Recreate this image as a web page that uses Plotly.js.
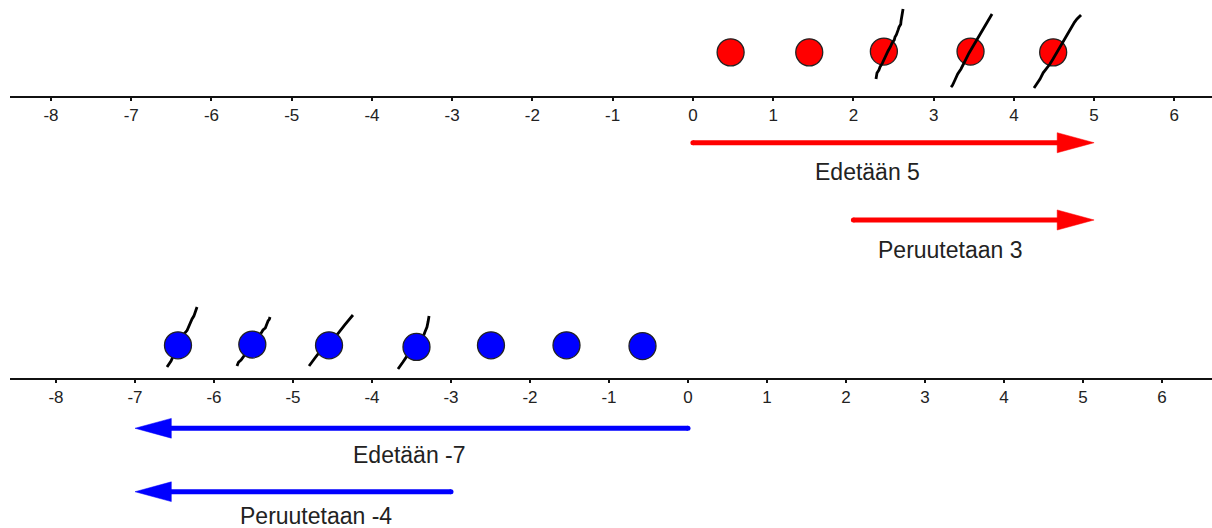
<!DOCTYPE html>
<html>
<head>
<meta charset="utf-8">
<script src="https://cdn.plot.ly/plotly-3.0.1.min.js"></script>
<style>html,body{margin:0;padding:0;background:#fff;}#chart{width:1212px;height:528px;}</style>
</head>
<body>
<div id="chart"></div>
<script>
// ---------- data ----------
var tickValues = [-8, -7, -6, -5, -4, -3, -2, -1, 0, 1, 2, 3, 4, 5, 6];
var tickLabels = ["-8", "-7", "-6", "-5", "-4", "-3", "-2", "-1", "0", "1", "2", "3", "4", "5", "6"];

// top number line (red): counters
var redX = [0.47, 1.45, 2.38, 3.46, 4.49];
var redY = [0.55, 0.55, 0.56, 0.56, 0.55];
// hand-drawn crossing strokes over red counters
var redStroke1X = [2.282, 2.286, 2.294, 2.318, 2.332, 2.360, 2.382, 2.408, 2.432, 2.462, 2.482, 2.510, 2.519, 2.536, 2.544, 2.560, 2.569, 2.590, 2.594, 2.600, 2.607, 2.614, 2.619];
var redStroke1Y = [0.218, 0.262, 0.293, 0.330, 0.368, 0.412, 0.467, 0.512, 0.567, 0.620, 0.667, 0.705, 0.742, 0.770, 0.804, 0.836, 0.866, 0.900, 0.941, 0.972, 1.003, 1.045, 1.090];
var redStroke2X = [3.217, 3.235, 3.266, 3.300, 3.341, 3.365, 3.403, 3.440, 3.478, 3.510, 3.553, 3.585, 3.628, 3.655, 3.690, 3.712, 3.728];
var redStroke2Y = [0.118, 0.140, 0.206, 0.282, 0.343, 0.398, 0.467, 0.540, 0.604, 0.660, 0.742, 0.795, 0.866, 0.920, 0.966, 1.000, 1.028];
var redStroke3X = [4.251, 4.290, 4.326, 4.365, 4.413, 4.450, 4.488, 4.530, 4.575, 4.610, 4.650, 4.690, 4.725, 4.755, 4.787, 4.815, 4.837];
var redStroke3Y = [0.106, 0.160, 0.218, 0.295, 0.355, 0.405, 0.467, 0.540, 0.604, 0.670, 0.742, 0.810, 0.879, 0.925, 0.966, 1.000, 1.016];
// red arrows: [start, end]
var redArrow1 = [0, 5];
var redArrow2 = [2, 5];
var redArrowY = [-0.576, -1.539];
var redLabels = ["Edetään 5", "Peruutetaan 3"];
var redLabelX = [2.18, 3.216];
var redLabelY = [-0.935, -1.913];

// bottom number line (blue): counters
var blueX = [-6.456, -5.515, -4.544, -3.437, -2.494, -1.538, -0.576];
var blueY = [0.42, 0.43, 0.42, 0.40, 0.42, 0.42, 0.41];
var blueStroke1X = [-6.595, -6.570, -6.544, -6.500, -6.456, -6.420, -6.380, -6.340, -6.316, -6.300, -6.278, -6.255, -6.241, -6.228, -6.215];
var blueStroke1Y = [0.146, 0.180, 0.222, 0.320, 0.411, 0.490, 0.563, 0.610, 0.665, 0.715, 0.753, 0.790, 0.842, 0.870, 0.905];
var blueStroke2X = [-5.709, -5.690, -5.658, -5.620, -5.582, -5.545, -5.506, -5.470, -5.430, -5.400, -5.380, -5.350, -5.342, -5.325, -5.316, -5.300, -5.291];
var blueStroke2Y = [0.158, 0.205, 0.234, 0.290, 0.335, 0.390, 0.437, 0.495, 0.551, 0.580, 0.614, 0.640, 0.665, 0.690, 0.728, 0.750, 0.778];
var blueStroke3X = [-4.797, -4.760, -4.722, -4.680, -4.633, -4.590, -4.544, -4.500, -4.456, -4.415, -4.380, -4.345, -4.316, -4.280, -4.241];
var blueStroke3Y = [0.158, 0.215, 0.259, 0.315, 0.361, 0.400, 0.437, 0.490, 0.538, 0.595, 0.639, 0.680, 0.715, 0.765, 0.804];
var blueStroke4X = [-3.671, -3.640, -3.608, -3.560, -3.519, -3.475, -3.430, -3.390, -3.354, -3.330, -3.304, -3.290, -3.278];
var blueStroke4Y = [0.120, 0.170, 0.209, 0.280, 0.335, 0.370, 0.411, 0.470, 0.525, 0.590, 0.652, 0.720, 0.791];
var blueArrow1 = [0, -7];
var blueArrow2 = [-3, -7];
var blueArrowY = [-0.630, -1.433];
var blueLabels = ["Edetään -7", "Peruutetaan -4"];
var blueLabelX = [-3.525, -4.715];
var blueLabelY = [-0.968, -1.735];

// ---------- styles ----------
var RED = "#ff0000", BLUE = "#0000ff";
var HEAD_LEN = 0.46, HEAD_HW = 0.125;

function stroke(xs, ys, xa, ya) {
  return {x: xs, y: ys, xaxis: xa, yaxis: ya, mode: "lines", type: "scatter",
    line: {color: "#000", width: 2.8, shape: "linear"}, hoverinfo: "skip", showlegend: false};
}
function arrow(seg, y, color, xa, ya) {
  var x0 = seg[0], x1 = seg[1];
  var dir = x1 > x0 ? 1 : -1;
  var base = x1 - dir * HEAD_LEN;
  var shaft = {x: [x0, base + dir * 0.02], y: [y, y], xaxis: xa, yaxis: ya, mode: "lines", type: "scatter",
    line: {color: color, width: 5}, hoverinfo: "skip", showlegend: false};
  var cap = {x: [x0], y: [y], xaxis: xa, yaxis: ya, mode: "markers", type: "scatter",
    marker: {size: 5, color: color, line: {width: 0}}, hoverinfo: "skip", showlegend: false};
  var head = {x: [base, x1, base, base], y: [y + HEAD_HW, y, y - HEAD_HW, y + HEAD_HW],
    xaxis: xa, yaxis: ya, mode: "lines", type: "scatter", fill: "toself", fillcolor: color,
    line: {color: color, width: 0.5}, hoverinfo: "skip", showlegend: false};
  return [shaft, cap, head];
}
function dots(xs, ys, color, xa, ya) {
  return {x: xs, y: ys, xaxis: xa, yaxis: ya, mode: "markers", type: "scatter",
    marker: {size: 27, color: color, line: {color: "#222", width: 1.3}}, hoverinfo: "skip", showlegend: false};
}

var traces = [];
// top: strokes drawn over counters
traces.push(dots(redX, redY, RED, "x", "y"));
traces.push(stroke(redStroke1X, redStroke1Y, "x", "y"));
traces.push(stroke(redStroke2X, redStroke2Y, "x", "y"));
traces.push(stroke(redStroke3X, redStroke3Y, "x", "y"));
traces = traces.concat(arrow(redArrow1, redArrowY[0], RED, "x", "y"));
traces = traces.concat(arrow(redArrow2, redArrowY[1], RED, "x", "y"));
// bottom: strokes behind counters
traces.push(stroke(blueStroke1X, blueStroke1Y, "x2", "y2"));
traces.push(stroke(blueStroke2X, blueStroke2Y, "x2", "y2"));
traces.push(stroke(blueStroke3X, blueStroke3Y, "x2", "y2"));
traces.push(stroke(blueStroke4X, blueStroke4Y, "x2", "y2"));
traces.push(dots(blueX, blueY, BLUE, "x2", "y2"));
traces = traces.concat(arrow(blueArrow1, blueArrowY[0], BLUE, "x2", "y2"));
traces = traces.concat(arrow(blueArrow2, blueArrowY[1], BLUE, "x2", "y2"));

var annotations = [];
function addLabels(texts, xs, ys, xa, ya) {
  for (var i = 0; i < texts.length; i++) {
    annotations.push({text: texts[i], x: xs[i], y: ys[i], xref: xa, yref: ya,
      showarrow: false, xanchor: "center", yanchor: "middle",
      font: {family: "Liberation Sans, Arial, sans-serif", size: 23, color: "#222"}});
  }
}
addLabels(redLabels, redLabelX, redLabelY, "x", "y");
addLabels(blueLabels, blueLabelX, blueLabelY, "x2", "y2");

var H = 528, L = 10, PW = 1202;
var topLinePx = 96.5, botLinePx = 378.5;
var topUnit = 80.24, botUnit = 79.0;
var topZeroPx = 692.9, botZeroPx = 688.0;

function xax(zeroPx, unit, linePx, extra) {
  var r0 = -(zeroPx - L) / unit;
  var o = {range: [r0, r0 + PW / unit], domain: [0, 1], anchor: "free", position: 1 - linePx / H,
    showline: true, linecolor: "#111", linewidth: 2, ticks: "outside", ticklen: 3, tickwidth: 2,
    tickcolor: "#111", tickmode: "array", tickvals: tickValues, ticktext: tickLabels,
    showgrid: false, zeroline: false, fixedrange: true,
    tickfont: {family: "Liberation Sans, Arial, sans-serif", size: 17, color: "#222"}};
  for (var k in extra) o[k] = extra[k];
  return o;
}
function yax(linePx, unit, extra) {
  var ymax = linePx / unit;
  var o = {range: [ymax - H / unit, ymax], domain: [0, 1], visible: false, showgrid: false,
    zeroline: false, fixedrange: true};
  for (var k in extra) o[k] = extra[k];
  return o;
}

var layout = {
  width: 1212, height: 528,
  margin: {l: L, r: 0, t: 0, b: 0, pad: 0},
  paper_bgcolor: "#fff", plot_bgcolor: "rgba(0,0,0,0)",
  showlegend: false,
  xaxis: xax(topZeroPx, topUnit, topLinePx, {}),
  xaxis2: xax(botZeroPx, botUnit, botLinePx, {overlaying: "x"}),
  yaxis: yax(topLinePx, topUnit, {}),
  yaxis2: yax(botLinePx, botUnit, {overlaying: "y"}),
  annotations: annotations
};

Plotly.newPlot("chart", traces, layout, {displayModeBar: false, staticPlot: true});
</script>
</body>
</html>
